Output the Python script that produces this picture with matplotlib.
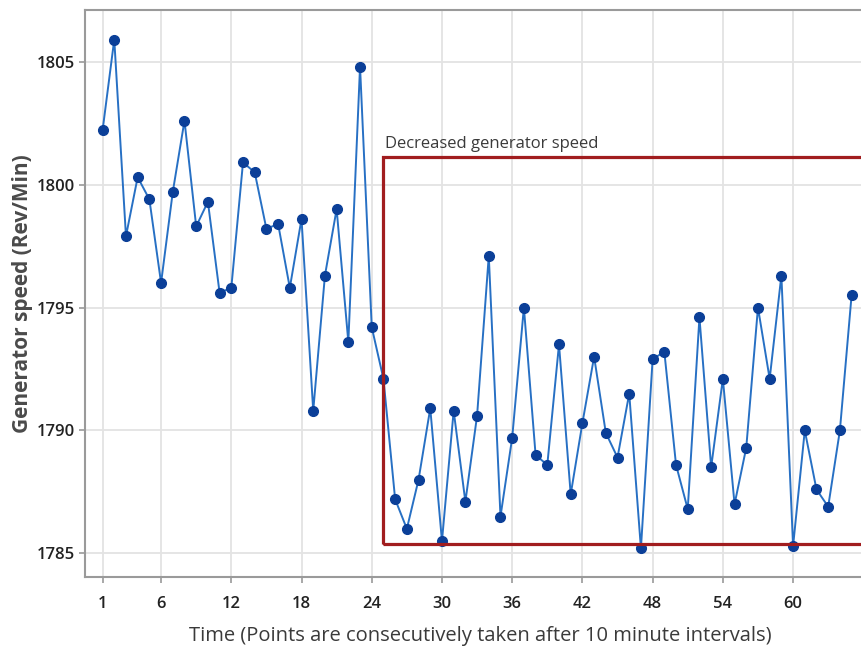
import numpy as np
import matplotlib.pyplot as plt
from matplotlib.patches import Rectangle

plt.rcParams['font.family'] = ['Open Sans', 'DejaVu Sans']

# generator speed readings, one every 10 minutes
time_idx = np.arange(1, 66)
speed = [1802.2, 1805.9, 1797.9, 1800.3, 1799.4, 1796.0, 1799.7, 1802.6, 1798.3, 1799.3,
         1795.6, 1795.8, 1800.9, 1800.5, 1798.2, 1798.4, 1795.8, 1798.6, 1790.8, 1796.3,
         1799.0, 1793.6, 1804.8, 1794.2, 1792.1, 1787.2, 1786.0, 1788.0, 1790.9, 1785.5,
         1790.8, 1787.1, 1790.6, 1797.1, 1786.5, 1789.7, 1795.0, 1789.0, 1788.6, 1793.5,
         1787.4, 1790.3, 1793.0, 1789.9, 1788.9, 1791.5, 1785.2, 1792.9, 1793.2, 1788.6,
         1786.8, 1794.6, 1788.5, 1792.1, 1787.0, 1789.3, 1795.0, 1792.1, 1796.3, 1785.3,
         1790.0, 1787.6, 1786.9, 1790.0, 1795.5]

xticks = [1, 6, 12, 18, 24, 30, 36, 42, 48, 54, 60]
yticks = [1785, 1790, 1795, 1800, 1805]

# region where the speed dropped
box_start = 25
box_low, box_high = 1785.38, 1801.12
box_label = 'Decreased generator speed'

fig = plt.figure(figsize=(8.61, 6.48), dpi=100)
ax = fig.add_axes([85/861, 1 - 577/648, 790/861, 567/648])

ax.plot(time_idx, speed, color='#2770c4', lw=1.4, marker='o', ms=7,
        mfc='#0b3f98', mec='#0b3f98', zorder=3)

ax.add_patch(Rectangle((box_start, box_low), 60, box_high - box_low,
                       fill=False, ec='#a11d1f', lw=2.3, zorder=4))
ax.text(box_start + 0.15, box_high + 0.2, box_label, fontsize=12,
        color='#3a3a3a', va='bottom', ha='left')

ax.set_xlim(-0.5, 67.0)
ax.set_ylim(1784.04, 1807.1)
ax.set_xticks(xticks)
ax.set_yticks(yticks)
ax.grid(True, color='#e3e3e3', lw=1.3)
ax.set_axisbelow(True)

for s in ['left', 'bottom', 'top']:
    ax.spines[s].set_color('#9a9a9a')
    ax.spines[s].set_linewidth(1.5)
ax.spines['right'].set_visible(False)

ax.tick_params(axis='both', colors='#9a9a9a', width=1.2, length=4,
               labelcolor='#222222', labelsize=12)
ax.tick_params(axis='x', pad=10)
for lab in ax.get_xticklabels() + ax.get_yticklabels():
    lab.set_fontweight('semibold')

ax.set_xlabel('Time (Points are consecutively taken after 10 minute intervals)',
              fontsize=14.5, color='#3a3a3a', labelpad=10)
ax.set_ylabel('Generator speed (Rev/Min)', fontsize=15, fontweight='bold',
              color='#4a4a4a')
ax.yaxis.set_label_coords(-0.066, 0.5)

fig.savefig('out.png', dpi=100)
